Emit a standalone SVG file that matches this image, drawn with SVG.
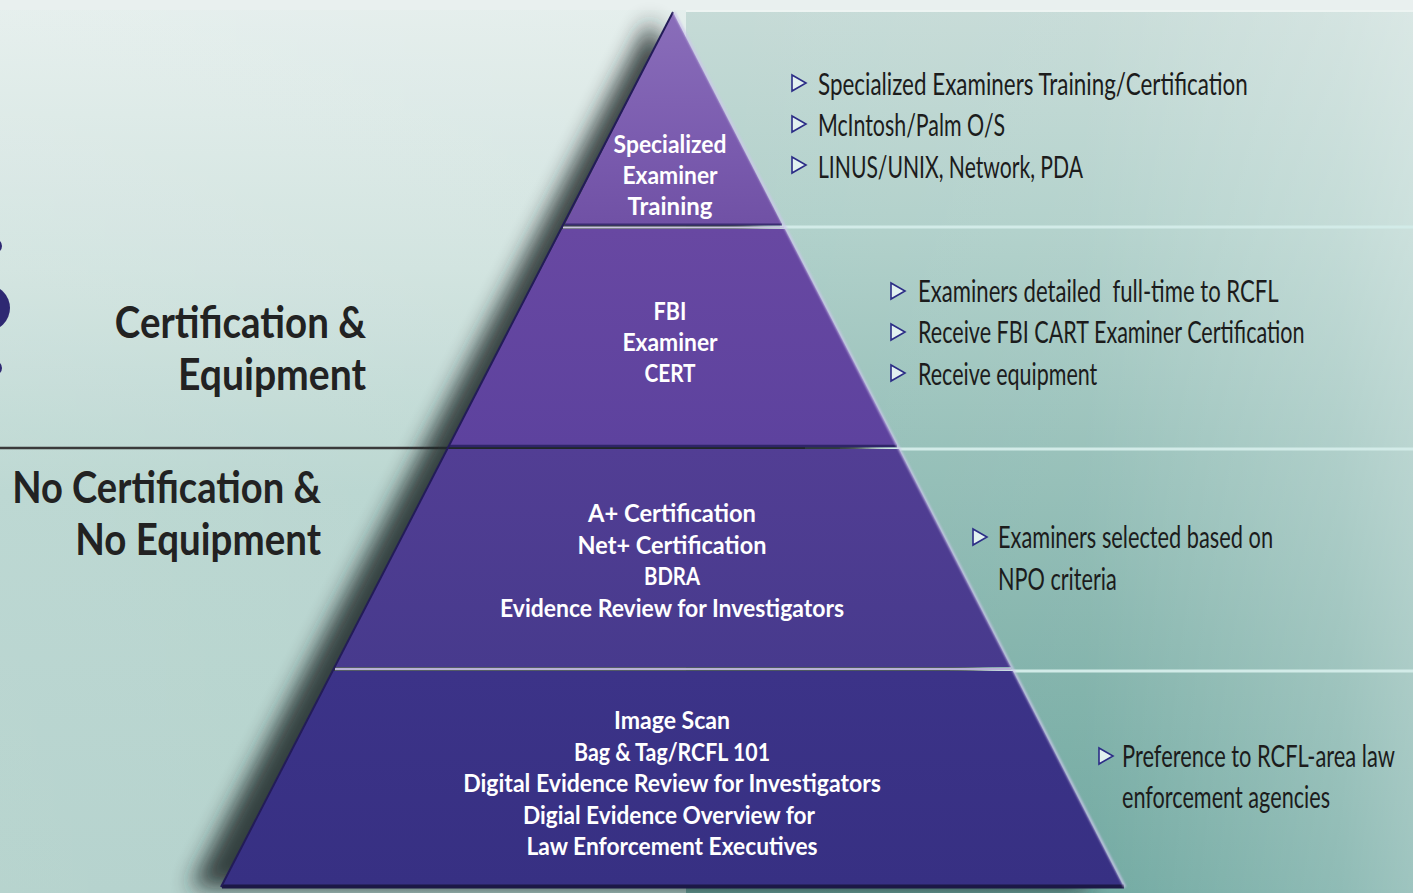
<svg xmlns="http://www.w3.org/2000/svg" width="1413" height="893" viewBox="0 0 1413 893">
  <defs>
    <linearGradient id="bgLeft" x1="0" y1="0" x2="0" y2="1">
      <stop offset="0" stop-color="#e4eeec"/>
      <stop offset="0.3" stop-color="#cfe2de"/>
      <stop offset="0.55" stop-color="#b6d4ce"/>
      <stop offset="1" stop-color="#afcfc9"/>
    </linearGradient>
    <linearGradient id="bgLeftH" x1="0" y1="0" x2="1" y2="0">
      <stop offset="0" stop-color="#ffffff" stop-opacity="0.10"/>
      <stop offset="1" stop-color="#ffffff" stop-opacity="0"/>
    </linearGradient>
    <linearGradient id="panel" x1="0" y1="0" x2="0" y2="1">
      <stop offset="0" stop-color="#c6dbd7"/>
      <stop offset="0.25" stop-color="#b0d0ca"/>
      <stop offset="0.5" stop-color="#95bfb8"/>
      <stop offset="0.75" stop-color="#7fb1a9"/>
      <stop offset="1" stop-color="#6aa59d"/>
    </linearGradient>
    <linearGradient id="panelH" x1="0" y1="0" x2="1" y2="0">
      <stop offset="0" stop-color="#ffffff" stop-opacity="0"/>
      <stop offset="0.55" stop-color="#ffffff" stop-opacity="0.05"/>
      <stop offset="0.9" stop-color="#ffffff" stop-opacity="0.25"/>
      <stop offset="1" stop-color="#ffffff" stop-opacity="0.35"/>
    </linearGradient>
    <linearGradient id="bandTop" x1="0" y1="0" x2="0" y2="1">
      <stop offset="0" stop-color="#8a6eba"/>
      <stop offset="0.6" stop-color="#7b5caf"/>
      <stop offset="1" stop-color="#7051a5"/>
    </linearGradient>
    <linearGradient id="bandFbi" x1="0" y1="0" x2="0" y2="1">
      <stop offset="0" stop-color="#6848a2"/>
      <stop offset="1" stop-color="#5d429e"/>
    </linearGradient>
    <linearGradient id="bandCert" x1="0" y1="0" x2="0" y2="1">
      <stop offset="0" stop-color="#523e94"/>
      <stop offset="1" stop-color="#473a8d"/>
    </linearGradient>
    <linearGradient id="bandBase" x1="0" y1="0" x2="0" y2="1">
      <stop offset="0" stop-color="#3c3388"/>
      <stop offset="1" stop-color="#373083"/>
    </linearGradient>
    <filter id="soft" x="-20%" y="-20%" width="140%" height="140%">
      <feGaussianBlur stdDeviation="11"/>
    </filter>
    <filter id="glow" x="-5%" y="-5%" width="110%" height="110%">
      <feGaussianBlur stdDeviation="1.2"/>
    </filter>
    <style>
      .lbl { font-family: Lato, "Open Sans", "DejaVu Sans", sans-serif; font-weight: 700; fill: #222222; font-size: 43px; text-anchor: end; }
      .tier { font-family: Lato, "Open Sans", "DejaVu Sans", sans-serif; font-weight: 700; fill: #ffffff; font-size: 25px; text-anchor: middle; }
      .item { font-family: Lato, "Open Sans", "DejaVu Sans", sans-serif; font-weight: 400; fill: #1c1c1c; font-size: 31px; }
      .bullet { fill: #e2f1f0; stroke: #2b2c86; stroke-width: 1.6; stroke-linejoin: miter; }
      .sepLight { stroke: #d2ebe8; stroke-width: 3; }
    </style>
  </defs>

  <!-- backdrop -->
  <rect x="0" y="0" width="1413" height="893" fill="url(#bgLeft)"/>
  <rect x="0" y="0" width="1413" height="893" fill="url(#bgLeftH)"/>
  <rect x="0" y="0" width="1413" height="10" fill="#e9f0ef"/>

  <!-- right-hand panel behind the bullet lists -->
  <rect x="686" y="10" width="727" height="883" fill="url(#panel)"/>
  <rect x="686" y="10" width="727" height="883" fill="url(#panelH)"/>
  <line x1="686" y1="11" x2="1413" y2="11" stroke="#edf4f2" stroke-width="2"/>
  <line class="sepLight" x1="780" y1="227" x2="1413" y2="227"/>
  <line class="sepLight" x1="840" y1="449" x2="1413" y2="449"/>
  <line class="sepLight" x1="950" y1="671" x2="1413" y2="671"/>

  <!-- divider between the two groups -->
  <line x1="0" y1="448" x2="805" y2="448" stroke="#3a3a3a" stroke-width="2.5"/>

  <!-- remnant marks at the left edge -->
  <g id="edge-marks" fill="#2e2872">
    <circle cx="-13" cy="308" r="23"/>
    <circle cx="-5" cy="246" r="7"/>
    <circle cx="-5" cy="368" r="7"/>
  </g>

  <!-- pyramid shadow, cast to the left -->
  <polygon points="650,20 190,888 1090,888" fill="#1c2625" opacity="0.85" filter="url(#soft)"/>

  <!-- pyramid tiers -->
  <g id="tier-specialized">
    <polygon points="673,12 565,224 782,224" fill="url(#bandTop)"/>
    <line x1="565" y1="224.5" x2="782" y2="224.5" stroke="#3b2c72" stroke-width="2"/>
    <line x1="563" y1="227.5" x2="784" y2="227.5" stroke="#c9c3df" stroke-width="2"/>
    <text class="tier" transform="translate(670,153) scale(0.8,1)" textLength="141" lengthAdjust="spacingAndGlyphs">Specialized</text>
    <text class="tier" transform="translate(670,184) scale(0.8,1)" textLength="119" lengthAdjust="spacingAndGlyphs">Examiner</text>
    <text class="tier" transform="translate(670,215) scale(0.8,1)" textLength="106" lengthAdjust="spacingAndGlyphs">Training</text>
  </g>

  <g id="tier-fbi">
    <polygon points="562,229 785,229 897,445 449,445" fill="url(#bandFbi)"/>
    <line x1="449" y1="446" x2="897" y2="446" stroke="#2f2468" stroke-width="2.5"/>
    <text class="tier" transform="translate(670,320) scale(0.8,1)" textLength="41" lengthAdjust="spacingAndGlyphs">FBI</text>
    <text class="tier" transform="translate(670,351) scale(0.8,1)" textLength="119" lengthAdjust="spacingAndGlyphs">Examiner</text>
    <text class="tier" transform="translate(670,382) scale(0.8,1)" textLength="64" lengthAdjust="spacingAndGlyphs">CERT</text>
  </g>

  <g id="tier-cert">
    <polygon points="447,449 899,449 1011,667 335,667" fill="url(#bandCert)"/>
    <line x1="335" y1="669" x2="1011" y2="669" stroke="#b9b2d6" stroke-width="2.5"/>
    <text class="tier" transform="translate(672,522) scale(0.8,1)" textLength="210" lengthAdjust="spacingAndGlyphs">A+ Certification</text>
    <text class="tier" transform="translate(672,554) scale(0.8,1)" textLength="236" lengthAdjust="spacingAndGlyphs">Net+ Certification</text>
    <text class="tier" transform="translate(672,585) scale(0.8,1)" textLength="70" lengthAdjust="spacingAndGlyphs">BDRA</text>
    <text class="tier" transform="translate(672,617) scale(0.8,1)" textLength="430" lengthAdjust="spacingAndGlyphs">Evidence Review for Investigators</text>
  </g>

  <g id="tier-base">
    <polygon points="333,671 1013,671 1123,885 222,885" fill="url(#bandBase)"/>
    <line x1="222" y1="886.5" x2="1124" y2="886.5" stroke="#1c1846" stroke-width="4"/>
    <text class="tier" transform="translate(672,729) scale(0.8,1)" textLength="145" lengthAdjust="spacingAndGlyphs">Image Scan</text>
    <text class="tier" transform="translate(672,761) scale(0.8,1)" textLength="245" lengthAdjust="spacingAndGlyphs">Bag &amp; Tag/RCFL 101</text>
    <text class="tier" transform="translate(672,792) scale(0.8,1)" textLength="522" lengthAdjust="spacingAndGlyphs">Digital Evidence Review for Investigators</text>
    <text class="tier" transform="translate(669,824) scale(0.8,1)" textLength="365" lengthAdjust="spacingAndGlyphs">Digial Evidence Overview for</text>
    <text class="tier" transform="translate(672,855) scale(0.8,1)" textLength="364" lengthAdjust="spacingAndGlyphs">Law Enforcement Executives</text>
  </g>

  <!-- pyramid edges: dark left rim, light right rim -->
  <g id="pyramid-edges" fill="none">
    <line x1="673" y1="12" x2="221" y2="887" stroke="#231c58" stroke-width="2"/>
    <line x1="674" y1="12" x2="1125" y2="887" stroke="#cdc6ec" stroke-width="2" filter="url(#glow)"/>
  </g>

  <!-- group labels -->
  <g id="label-certified">
    <text class="lbl" transform="translate(366,338) scale(0.78,1)" textLength="322" lengthAdjust="spacingAndGlyphs">Certification &amp;</text>
    <text class="lbl" transform="translate(366,390) scale(0.78,1)" textLength="241" lengthAdjust="spacingAndGlyphs">Equipment</text>
  </g>
  <g id="label-uncertified">
    <text class="lbl" transform="translate(321,503) scale(0.78,1)" textLength="396" lengthAdjust="spacingAndGlyphs">No Certification &amp;</text>
    <text class="lbl" transform="translate(321,555) scale(0.78,1)" textLength="315" lengthAdjust="spacingAndGlyphs">No Equipment</text>
  </g>

  <!-- bullet lists -->
  <g id="list-specialized">
    <polygon class="bullet" points="792,75 806,83 792,91"/>
    <text class="item" transform="translate(818,95) scale(0.72,1)" textLength="597" lengthAdjust="spacingAndGlyphs">Specialized Examiners Training/Certification</text>
    <polygon class="bullet" points="792,116 806,124 792,132"/>
    <text class="item" transform="translate(818,136) scale(0.72,1)" textLength="260" lengthAdjust="spacingAndGlyphs">McIntosh/Palm O/S</text>
    <polygon class="bullet" points="792,157 806,165 792,173"/>
    <text class="item" transform="translate(818,178) scale(0.72,1)" textLength="368" lengthAdjust="spacingAndGlyphs">LINUS/UNIX, Network, PDA</text>
  </g>
  <g id="list-fbi">
    <polygon class="bullet" points="891,283 905,291 891,299"/>
    <text class="item" transform="translate(918,302) scale(0.72,1)" textLength="501" lengthAdjust="spacingAndGlyphs" xml:space="preserve">Examiners detailed  full-time to RCFL</text>
    <polygon class="bullet" points="891,324 905,332 891,340"/>
    <text class="item" transform="translate(918,343) scale(0.72,1)" textLength="537" lengthAdjust="spacingAndGlyphs">Receive FBI CART Examiner Certification</text>
    <polygon class="bullet" points="891,365 905,373 891,381"/>
    <text class="item" transform="translate(918,385) scale(0.72,1)" textLength="249" lengthAdjust="spacingAndGlyphs">Receive equipment</text>
  </g>
  <g id="list-cert">
    <polygon class="bullet" points="973,529 987,537 973,545"/>
    <text class="item" transform="translate(998,548) scale(0.72,1)" textLength="382" lengthAdjust="spacingAndGlyphs">Examiners selected based on</text>
    <text class="item" transform="translate(998,590) scale(0.72,1)" textLength="165" lengthAdjust="spacingAndGlyphs">NPO criteria</text>
  </g>
  <g id="list-base">
    <polygon class="bullet" points="1099,748 1113,756 1099,764"/>
    <text class="item" transform="translate(1122,767) scale(0.72,1)" textLength="379" lengthAdjust="spacingAndGlyphs">Preference to RCFL-area law</text>
    <text class="item" transform="translate(1122,808) scale(0.72,1)" textLength="289" lengthAdjust="spacingAndGlyphs">enforcement agencies</text>
  </g>
</svg>
